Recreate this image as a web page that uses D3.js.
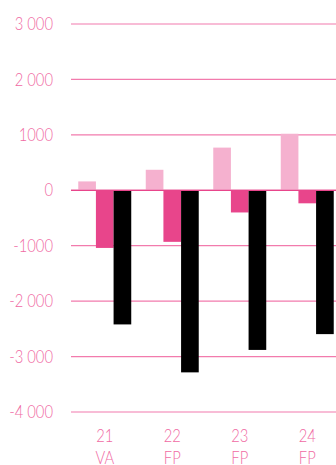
<!DOCTYPE html>
<html><head><meta charset="utf-8">
<script src="https://cdn.jsdelivr.net/npm/d3@7/dist/d3.min.js"></script>
<style>body{margin:0;background:#fff}svg{display:block}</style>
</head><body>
<svg id="c" width="336" height="465"></svg>
<script>
const categories = ["21", "22", "23", "24"];
const subLabels = ["VA", "FP", "FP", "FP"];
const seriesA = [160, 370, 770, 1020];
const seriesB = [-1040, -930, -400, -235];
const seriesC = [-2420, -3285, -2880, -2595];
const tickValues = [3000, 2000, 1000, 0, -1000, -2000, -3000, -4000];
const tickLabels = ["3 000", "2 000", "1000", "0", "-1000", "-2 000", "-3 000", "-4 000"];
const colors = ["#f5b1cf", "#e8458b", "#000000"];

const svg = d3.select("#c");
const y = d3.scaleLinear().domain([-4000, 3000]).range([412, 24]);
const x = d3.scaleBand().domain(categories).range([71, 341]).paddingInner(0.215).paddingOuter(0.1075);
const x1 = d3.scaleBand().domain([0,1,2]).range([0, x.bandwidth()]);
const font = "Lato, 'Open Sans', sans-serif";
const txt = "#f06aa3";
const sx = 0.87;

// gridlines
svg.append("g").selectAll("line").data(tickValues).join("line")
  .attr("x1", 71).attr("x2", 336)
  .attr("y1", d => y(d)).attr("y2", d => y(d))
  .attr("stroke", d => d === 0 ? "#e8458b" : "#f27bad").attr("stroke-width", 1.2);

// y labels
svg.append("g").selectAll("text").data(tickValues).join("text")
  .attr("transform", d => `translate(53,${y(d)}) scale(${sx},1)`)
  .attr("dy", "0.36em")
  .attr("text-anchor", "end").attr("fill", txt)
  .style("font-family", font).style("font-weight", 300).style("font-size", "17px")
  .text((d, i) => tickLabels[i]);

const series = [seriesA, seriesB, seriesC];
const data = [];
categories.forEach((c, i) => series.forEach((s, j) => data.push({c, j, v: s[i]})));
svg.append("g").selectAll("rect").data(data).join("rect")
  .attr("x", d => x(d.c) + x1(d.j))
  .attr("width", x1.bandwidth())
  .attr("y", d => y(Math.max(0, d.v)))
  .attr("height", d => Math.abs(y(d.v) - y(0)))
  .attr("fill", d => colors[d.j]);

// redraw zero line on top
svg.append("line").attr("x1", 71).attr("x2", 336).attr("y1", y(0)).attr("y2", y(0))
  .attr("stroke", "#e8458b").attr("stroke-width", 1.2);

// x labels
const xl = svg.append("g").selectAll("g").data(categories).join("g")
  .attr("transform", d => `translate(${x(d) + x.bandwidth() / 2},0) scale(${sx},1)`);
const xt = xl.append("text").attr("text-anchor", "middle").attr("fill", txt)
  .style("font-family", font).style("font-weight", 300).style("font-size", "17px");
xt.append("tspan").attr("x", 0).attr("y", 442).text(d => d);
xt.append("tspan").attr("x", 0).attr("y", 464.5).text((d, i) => subLabels[i]);
</script>
</body></html>
